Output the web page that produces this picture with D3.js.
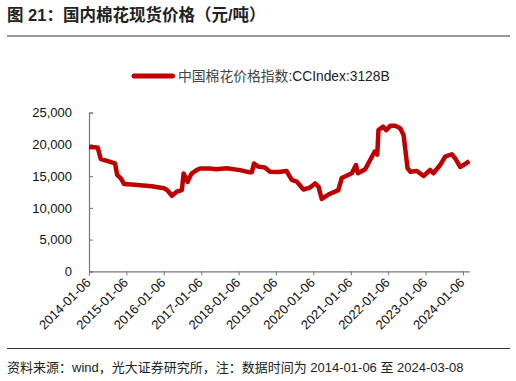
<!DOCTYPE html>
<html>
<head>
<meta charset="utf-8">
<script src="https://cdn.jsdelivr.net/npm/d3@7"></script>
<style>
  body { margin: 0; background: #fff; }
  svg { display: block; }
  text { font-family: "Liberation Sans", Arial, "Noto Sans CJK SC", sans-serif; }
</style>
</head>
<body>
<div class="chart"></div>
<script>
// chart data (CCIndex 3128B, yuan/ton)
let dates = [
  "2014-01-06", "2014-04-01", "2014-05-01", "2014-07-01", "2014-09-17", "2014-10-08",
  "2014-11-13", "2014-12-15", "2015-03-30", "2015-09-10", "2016-01-08", "2016-02-15",
  "2016-03-26", "2016-05-12", "2016-07-01", "2016-07-18", "2016-08-26", "2016-10-03",
  "2016-11-22", "2016-12-26", "2017-04-01", "2017-06-01", "2017-09-12", "2018-01-20",
  "2018-04-27", "2018-05-15", "2018-06-05", "2018-07-17", "2018-09-20", "2018-11-08",
  "2019-01-29", "2019-04-20", "2019-06-09", "2019-07-28", "2019-10-01", "2019-12-05",
  "2020-01-23", "2020-02-25", "2020-03-28", "2020-06-01", "2020-09-06", "2020-10-09",
  "2021-01-16", "2021-02-25", "2021-03-16", "2021-05-27", "2021-08-01", "2021-08-26",
  "2021-09-21", "2021-10-03", "2021-11-16", "2021-12-18", "2022-01-26", "2022-03-16",
  "2022-05-03", "2022-06-05", "2022-07-14", "2022-08-09", "2022-10-14", "2022-12-17",
  "2023-02-20", "2023-03-23", "2023-05-28", "2023-07-16", "2023-09-19", "2023-10-22",
  "2023-12-10", "2024-01-11", "2024-03-08"
];
let prices = [
  19600, 19500, 17700, 17400, 17000, 15200,
  14650, 13750, 13650, 13400, 13100, 12700,
  11900, 12550, 12800, 15400, 14100, 15400,
  15950, 16200, 16200, 16100, 16250, 15950,
  15600, 15600, 17000, 16500, 16350, 15700,
  15650, 15800, 14400, 14130, 12900, 13200,
  13850, 13350, 11400, 12100, 12800, 14700,
  15450, 16750, 15450, 16100, 18100, 18850,
  18400, 22250, 22800, 22250, 22950, 22950,
  22550, 21500, 16250, 15700, 15800, 15020,
  15970, 15450, 16750, 18070, 18450, 17800,
  16450, 16750, 17350
];
let xTickLabels = [
  "2014-01-06", "2015-01-06", "2016-01-06", "2017-01-06", "2018-01-06", "2019-01-06",
  "2020-01-06", "2021-01-06", "2022-01-06", "2023-01-06", "2024-01-06"
];
let yTicks = [0, 5000, 10000, 15000, 20000, 25000];

let chart = {};
let parse = d3.timeParse("%Y-%m-%d");

init();

function init() {
  chart.data = dates.map((d, i) => ({ date: parse(d), value: prices[i] }));
  setDimensions();
  setScales();
  appendElements();
}

function setDimensions() {
  chart.W = 516;
  chart.H = 381;
  chart.margin = { top: 112.7, left: 89, right: 516 - 469.3, bottom: 381 - 271.3 };
  chart.width = chart.W - chart.margin.left - chart.margin.right;
  chart.height = chart.H - chart.margin.top - chart.margin.bottom;
}

function setScales() {
  chart.xScale = d3.scaleTime()
    .domain([parse(dates[0]), parse(dates[dates.length - 1])])
    .range([0, chart.width]);
  chart.yScale = d3.scaleLinear()
    .domain([0, 25000])
    .range([chart.height, 0]);
}

function appendElements() {
  chart.svg = d3.select(".chart").append("svg")
    .attr("width", chart.W)
    .attr("height", chart.H);

  // title and rules
  chart.svg.append("text")
    .attr("x", 7).attr("y", 21)
    .attr("font-family", "'Noto Sans CJK SC', sans-serif")
    .attr("font-size", 16.5).attr("font-weight", "bold").attr("fill", "#222")
    .text("图 21：国内棉花现货价格（元/吨）");
  chart.svg.append("line")
    .attr("x1", 7).attr("x2", 510).attr("y1", 36).attr("y2", 36)
    .attr("stroke", "#333").attr("stroke-width", 1.2);
  chart.svg.append("line")
    .attr("x1", 7).attr("x2", 510).attr("y1", 348.5).attr("y2", 348.5)
    .attr("stroke", "#333").attr("stroke-width", 1.2);
  chart.svg.append("text")
    .attr("x", 7).attr("y", 372)
    .attr("font-family", "'Noto Sans CJK SC', sans-serif")
    .attr("font-size", 13).attr("fill", "#222")
    .text("资料来源：wind，光大证券研究所，注：数据时间为 2014-01-06 至 2024-03-08");

  // legend
  chart.svg.append("line")
    .attr("x1", 134).attr("x2", 172.5).attr("y1", 76).attr("y2", 76)
    .attr("stroke", "#C00000").attr("stroke-width", 5).attr("stroke-linecap", "round");
  let leg = chart.svg.append("text")
    .attr("x", 178).attr("y", 81)
    .attr("font-size", 13.8).attr("fill", "#222");
  leg.append("tspan").attr("font-family", "'Noto Sans CJK SC', sans-serif").attr("fill", "#444")
    .text("中国棉花价格指数");
  leg.append("tspan").text(":CCIndex:3128B");

  chart.plot = chart.svg.append("g")
    .attr("transform", `translate(${chart.margin.left},${chart.margin.top})`);

  // y axis, ticks pointing into the plot
  chart.yAxis = chart.plot.append("g")
    .call(d3.axisRight(chart.yScale).tickValues(yTicks).tickSize(4).tickFormat(d3.format(",")));
  chart.yAxis.select(".domain").attr("stroke", "#777").attr("stroke-width", 1.2);
  chart.yAxis.selectAll(".tick line").attr("stroke", "#777");
  chart.yAxis.selectAll(".tick text")
    .attr("x", -17).attr("text-anchor", "end")
    .attr("font-size", 13).attr("fill", "#111")
    .attr("font-family", "'Liberation Sans', Arial, sans-serif");

  // x axis
  chart.xAxis = chart.plot.append("g")
    .attr("transform", `translate(0,${chart.height})`)
    .call(d3.axisBottom(chart.xScale)
      .tickValues(xTickLabels.map(parse))
      .tickSize(4).tickSizeOuter(0)
      .tickFormat(d3.timeFormat("%Y-%m-%d")));
  chart.xAxis.select(".domain").attr("stroke", "#777").attr("stroke-width", 1.2);
  chart.xAxis.selectAll(".tick line").attr("stroke", "#777");
  chart.xAxis.selectAll(".tick text")
    .attr("font-size", 13).attr("fill", "#111")
    .attr("font-family", "'Liberation Sans', Arial, sans-serif")
    .attr("text-anchor", "end")
    .attr("dy", null).attr("y", 0)
    .attr("transform", "translate(2,12) rotate(-45)");

  // price line
  let line = d3.line()
    .x(d => chart.xScale(d.date))
    .y(d => chart.yScale(d.value));
  chart.plot.append("path")
    .datum(chart.data)
    .attr("d", line)
    .attr("fill", "none")
    .attr("stroke", "#C00000")
    .attr("stroke-width", 4.5)
    .attr("stroke-linejoin", "round");
}
</script>
</body>
</html>
